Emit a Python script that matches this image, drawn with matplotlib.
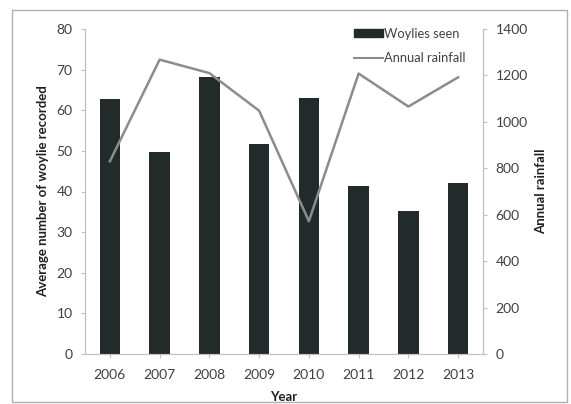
import matplotlib
matplotlib.use("Agg")
import matplotlib.pyplot as plt
from matplotlib.patches import Rectangle, Patch
from matplotlib.lines import Line2D
import numpy as np

# valores
years = ["2006", "2007", "2008", "2009", "2010", "2011", "2012", "2013"]
woylies_seen = [62.7, 49.8, 68.2, 51.8, 62.9, 41.4, 35.2, 42.1]
annual_rainfall = [830, 1268, 1210, 1048, 572, 1208, 1066, 1192]

plt.rcParams['font.family'] = ['Lato', 'DejaVu Sans']

fig = plt.figure(figsize=(5.71, 4.04), dpi=100)
ax = fig.add_axes([85 / 571, 1 - 354 / 404, 398 / 571, 325 / 404])
ax2 = ax.twinx()

x = np.arange(len(years))
bar_color = "#222b29"
line_color = "#8c8c8c"
axis_color = "#c0c0c0"
text_color = "#404040"

ax.bar(x, woylies_seen, width=0.41, color=bar_color, zorder=2)
ax2.plot(x, annual_rainfall, color=line_color, linewidth=1.8, zorder=3)

ax.set_xlim(-0.5, len(years) - 0.5)
ax.set_ylim(0, 80)
ax.set_yticks(range(0, 81, 10))
ax2.set_ylim(0, 1400)
ax2.set_yticks(range(0, 1401, 200))
ax.set_xticks(x)
ax.set_xticklabels(years)

for a in (ax, ax2):
    a.spines['top'].set_visible(False)
    for s in ('left', 'right', 'bottom'):
        a.spines[s].set_color(axis_color)
        a.spines[s].set_linewidth(0.8)
    a.tick_params(colors=axis_color, labelcolor=text_color, labelsize=10, length=3, width=0.8)
ax.tick_params(axis='x', pad=8)
ax.tick_params(axis='y', pad=6)
ax2.tick_params(axis='y', pad=6)

ax.set_xlabel("Year", fontsize=9.5, fontweight='bold', color="#202020")
ax.xaxis.set_label_coords(0.5, -0.115)
ax.set_ylabel("Average number of woylie recorded", fontsize=9.5, fontweight='bold', color="#202020")
ax.yaxis.set_label_coords(-0.09, 0.5)
ax2.set_ylabel("Annual rainfall", fontsize=9.5, fontweight='bold', color="#202020")
ax2.yaxis.set_label_coords(1.13, 0.5)

handles = [Patch(color=bar_color), Line2D([0], [0], color=line_color, linewidth=1.5)]
ax2.legend(handles, ["Woylies seen", "Annual rainfall"], loc="upper right",
           bbox_to_anchor=(0.985, 1.04), frameon=False, fontsize=9.3,
           handlelength=2.3, handleheight=0.6, handletextpad=0.05,
           labelspacing=0.95, labelcolor=text_color)

# marco exterior
fig.patches.append(Rectangle((12 / 571, 1 - 402 / 404), 555 / 571, 392 / 404,
                             transform=fig.transFigure, fill=False,
                             edgecolor="#b0b0b0", linewidth=1))

fig.savefig("out.png", dpi=100)
